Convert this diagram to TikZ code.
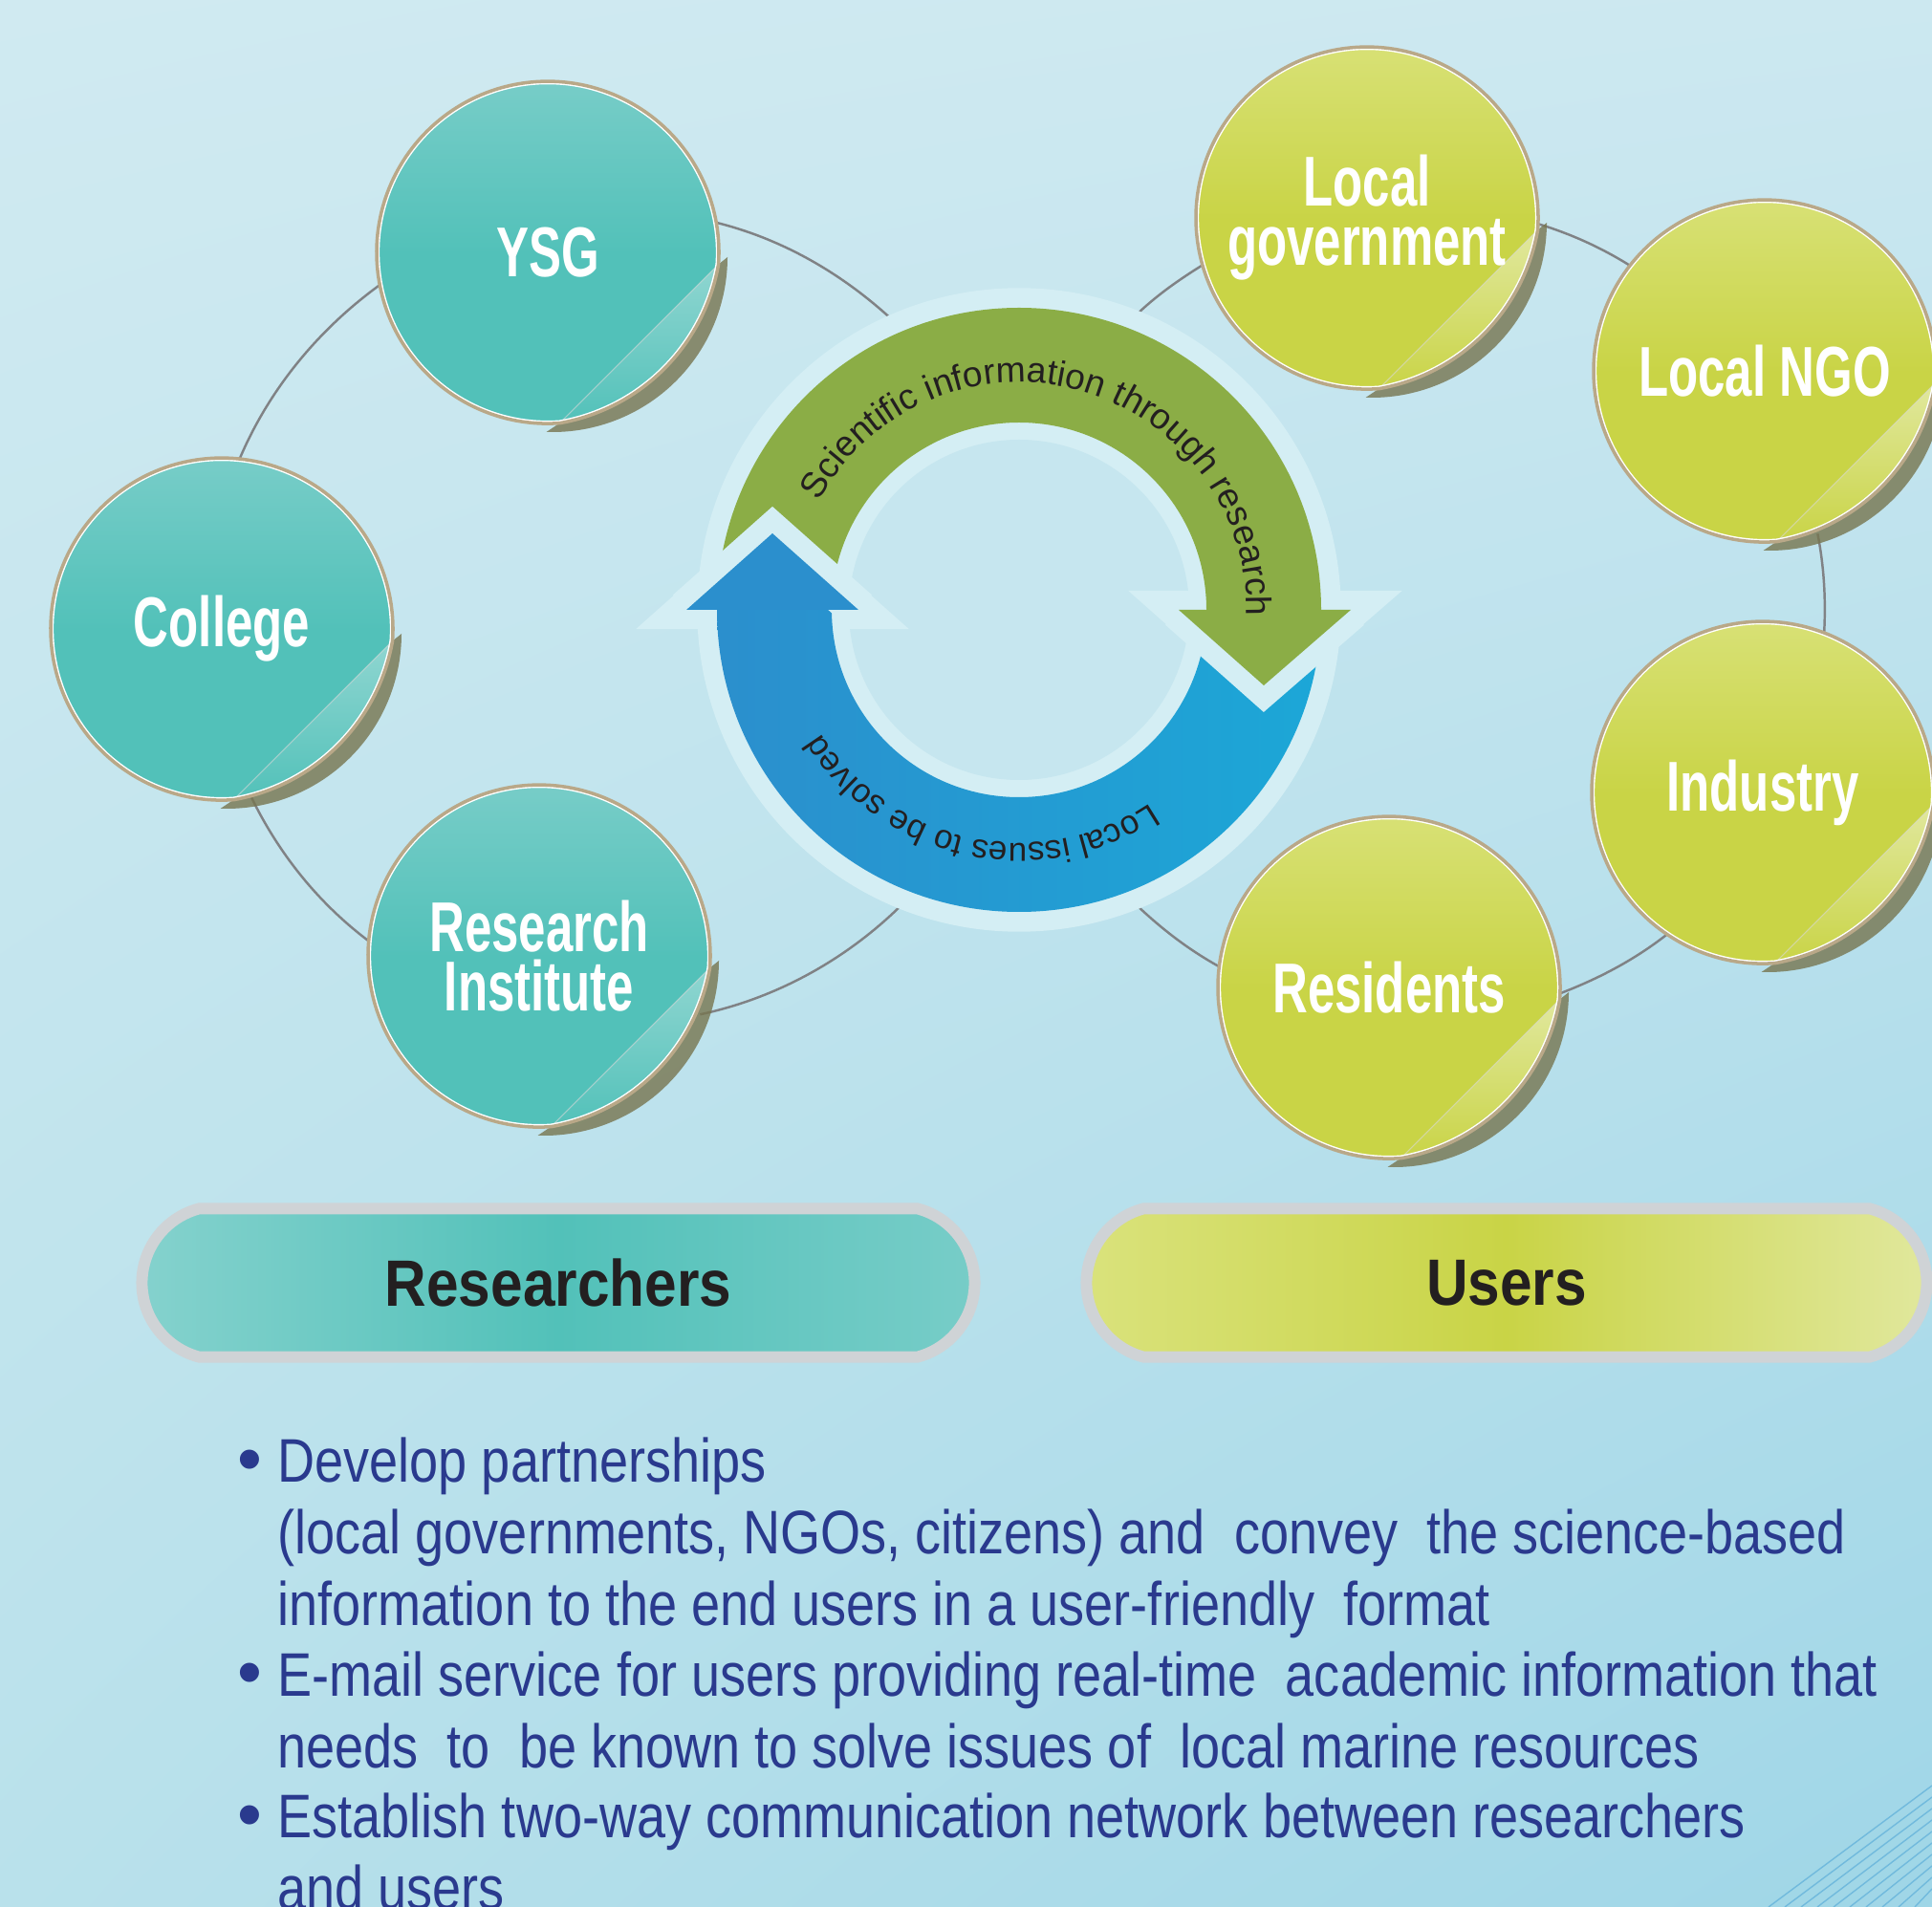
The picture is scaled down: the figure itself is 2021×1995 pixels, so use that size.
\documentclass[tikz,border=0pt]{standalone}
\usepackage{fontspec}
\usepackage{pdfrender}
\usetikzlibrary{calc,shapes.misc,decorations.text,shadings}
\setmainfont{Liberation Sans}
\newfontfamily\stickerfont[FakeStretch=0.69]{Liberation Sans}
\newfontfamily\pillfont[FakeStretch=0.88]{Liberation Sans}
\newfontfamily\itemfont[FakeStretch=0.84]{Liberation Sans}
\newfontfamily\arcfont{Liberation Sans}

\definecolor{bgUL}{HTML}{D0EAF1}
\definecolor{bgUR}{HTML}{CCE8F0}
\definecolor{bgLL}{HTML}{B9E1EB}
\definecolor{bgLR}{HTML}{9FD6E7}
\definecolor{haloc}{HTML}{D4EEF4}
\definecolor{holec}{HTML}{C6E6EF}
\definecolor{blueL}{HTML}{2B8FCD}
\definecolor{blueR}{HTML}{1CA7D7}
\definecolor{greenA}{HTML}{8BAD46}
\definecolor{ink}{HTML}{231F20}
\definecolor{tealL}{HTML}{78CDC8}
\definecolor{tealM}{HTML}{52C1B9}
\definecolor{tealF}{HTML}{90D6D1}
\definecolor{tealD}{HTML}{2AB2A9}
\definecolor{limeL}{HTML}{D8E176}
\definecolor{limeM}{HTML}{C9D446}
\definecolor{limeF}{HTML}{E1E89E}
\definecolor{limeD}{HTML}{9DB12B}
\definecolor{rimc}{HTML}{B9A888}
\definecolor{pillrim}{HTML}{CFD3D6}
\definecolor{linkgray}{HTML}{808285}
\definecolor{navy}{HTML}{2A3A8E}
\definecolor{shadowc}{HTML}{77754F}

\pgfdeclarelayer{bg}
\pgfdeclarelayer{links}
\pgfdeclarelayer{art}
\pgfsetlayers{bg,links,art,main}

% white letters with a coloured rim
\newcommand{\rimmed}[2]{\textpdfrender{TextRenderingMode=FillStroke, LineWidth=1.1pt, LineJoin=1, StrokeColor=#1, FillColor=white}{#2}}

% outline of a sticker with its curled corner
\newcommand{\stickerpath}[1]{(#1.-86) arc[start angle=86, end angle=364, radius=179] .. controls +(-15,85) and +(85,-15) .. (#1.-86) -- cycle}

% sticker art: #1 node, #2 light, #3 main, #4 curl colour
\newcommand{\peeled}[4]{%
  \begin{pgfonlayer}{art}
    \fill[shadowc, opacity=.8] ($(#1.center)+(5,5)$) ++(0:183) arc[start angle=0, end angle=92, radius=183] -- (#1.-86) -- (#1.-4) -- cycle;
    \shade[shading angle=45, top color=#2, bottom color=#3, middle color=#3] \stickerpath{#1};
    \shade[shading angle=45, top color=#4, bottom color=#3] (#1.-4) -- (#1.-86) .. controls +(85,-15) and +(-15,85) .. (#1.-4) -- cycle;
    \draw[white!70!gray, opacity=.6, line width=0.3pt] (#1.-4) -- (#1.-86);
    \begin{scope}
      \clip \stickerpath{#1};
      \draw[white, line width=1.8pt] \stickerpath{#1};
    \end{scope}
    \draw[rimc, line width=1pt] \stickerpath{#1};
  \end{pgfonlayer}}

\begin{document}
\begin{tikzpicture}[x=0.01cm, y=-0.01cm]
  \tikzstyle{sticker} = [circle, minimum size=3.58cm, inner sep=0pt, outer sep=0pt,
                         text=white, align=center, font=\stickerfont\bfseries\fontsize{21}{17.6}\selectfont]
  \tikzstyle{link} = [draw=linkgray, line width=0.7pt, looseness=0.87]
  \tikzstyle{halo} = [fill=haloc, draw=haloc]
  \tikzstyle{notch} = [draw=haloc, line width=11.95pt, line join=miter]
  \tikzstyle{pill} = [rounded rectangle, rounded rectangle arc length=150, minimum height=1.55cm,
                      draw=pillrim, line width=3.4pt, text=ink, font=\pillfont\bfseries\fontsize{19.5}{20}\selectfont]
  \tikzstyle{item} = [anchor=base west, align=left, inner sep=0pt, text=navy,
                      font=\itemfont\fontsize{18.3}{21.2}\selectfont]
  \tikzstyle{dot} = [anchor=base east, inner sep=0pt, text=navy, font=\fontsize{21}{21}\selectfont]

  \useasboundingbox (0,0) rectangle (2021,1995);
  \clip (0,0) rectangle (2021,1995);
  \begin{pgfonlayer}{bg}
    \shade[upper left=bgUL, upper right=bgUR, lower left=bgLL, lower right=bgLR] (0,0) rectangle (2021,1995);
    \foreach \i in {0,...,9}
      \draw[blueL!40!bgLR, line width=0.4pt] (1850+\i*17,1995) -- (2021,1868+\i*12);
  \end{pgfonlayer}

  % cycle in the middle
  \node[circle, minimum size=6.72cm, inner sep=0pt, outer sep=0pt] (cycle) at (1066,638) {};

  % researchers
  \node[sticker] (ysg) at (573,264) {\rimmed{tealD}{YSG}};
  \node[sticker] (college) at (232,658) {\rimmed{tealD}{College}};
  \node[sticker] (institute) at (564,1000) {\rimmed{tealD}{Research}\\\rimmed{tealD}{Institute}};
  % users
  \node[sticker] (localgov) at (1430,228) {\rimmed{limeD}{Local}\\\rimmed{limeD}{government}};
  \node[sticker] (ngo) at (1846,388) {\rimmed{limeD}{Local NGO}};
  \node[sticker] (industry) at (1844,829) {\rimmed{limeD}{Industry}};
  \node[sticker] (residents) at (1453,1033) {\rimmed{limeD}{Residents}};

  \peeled{ysg}{tealL}{tealM}{tealF}
  \peeled{college}{tealL}{tealM}{tealF}
  \peeled{institute}{tealL}{tealM}{tealF}
  \peeled{localgov}{limeL}{limeM}{limeF}
  \peeled{ngo}{limeL}{limeM}{limeF}
  \peeled{industry}{limeL}{limeM}{limeF}
  \peeled{residents}{limeL}{limeM}{limeF}

  % links
  \begin{pgfonlayer}{links}
    \draw[link] (cycle.114) to[out=138, in=-14] (ysg.10);
    \draw[link] (ysg.191) to[out=216, in=67] (college.84);
    \draw[link] (college.280) to[out=296, in=143] (institute.175);
    \draw[link] (institute.340) to[out=12, in=224] (cycle.248);
    \draw[link] (cycle.292) to[out=317, in=151] (residents.173);
    \draw[link] (residents.358) to[out=21, in=218] (industry.236);
    \draw[link] (industry.69) to[out=87, in=-79] (ngo.288);
    \draw[link] (ngo.142) to[out=148, in=-17] (localgov.358);
    \draw[link] (localgov.196) to[out=212, in=43] (cycle.68);
  \end{pgfonlayer}

  % the two arrows
  \begin{pgfonlayer}{art}
  \begin{scope}[shift={(cycle.center)}]
    \fill[halo] (0,0) circle[radius=336];
    \fill[holec] (0,0) circle[radius=178];
    \filldraw[halo, line width=11.4pt, line join=miter] (-348,0) -- (-258,-80) -- (-168,0) -- cycle;
    \filldraw[halo, line width=11.4pt, line join=miter] (167,0) -- (256,79) -- (347,0) -- cycle;
    \shade[left color=blueL, right color=blueR] (316,0) arc[start angle=0, end angle=180, radius=316]
      -- (-196,0) arc[start angle=180, end angle=0, radius=196] -- cycle;
    \draw[notch] (167,0) -- (256,79) -- (347,0);
    \fill[greenA] (167,0) -- (256,79) -- (347,0) -- cycle;
    \fill[greenA] (-316,0) arc[start angle=180, end angle=360, radius=316]
      -- (196,0) arc[start angle=360, end angle=180, radius=196] -- cycle;
    \draw[notch] (-348,0) -- (-258,-80) -- (-168,0);
    \fill[blueL] (-348,0) -- (-258,-80) -- (-168,0) -- cycle;
    \path[decorate, decoration={text along path, text align=center,
      text={|\arcfont\fontsize{10.6}{12}\selectfont\color{ink}|Scientific information through research}}]
      (195:238) arc[start angle=195, end angle=375, radius=238];
    \path[decorate, decoration={text along path, text align=center,
      text={|\arcfont\fontsize{10}{12}\selectfont\color{ink}|Local issues to be solved}}]
      (12:244) arc[start angle=12, end angle=192, radius=244];
  \end{scope}
  \end{pgfonlayer}

  % groups
  \node[pill, minimum width=8.94cm, left color=tealL!90!white, right color=tealL, middle color=tealM] (researchers) at (584,1342) {Researchers};
  \node[pill, minimum width=9.02cm, left color=limeL!95!white, right color=limeF, middle color=limeM] (users) at (1576,1342) {Users};

  % aims (base = last line)
  \node[item] (item1) at (290,1700) {Develop partnerships\\(local governments, NGOs, citizens) and\ \ convey\ \ the science-based\\information to the end users in a user-friendly\ \ format};
  \node[item] (item2) at (290,1849) {E-mail service for users providing real-time\ \ academic information that\\needs\ \ to\ \ be known to solve issues of\ \ local marine resources};
  \node[item] (item3) at (290,1997) {Establish two-way communication network between researchers\\and users};
  \node[dot] (dot1) at (275,1551) {\textbullet};
  \node[dot] (dot2) at (275,1774) {\textbullet};
  \node[dot] (dot3) at (275,1923) {\textbullet};
\end{tikzpicture}
\end{document}
